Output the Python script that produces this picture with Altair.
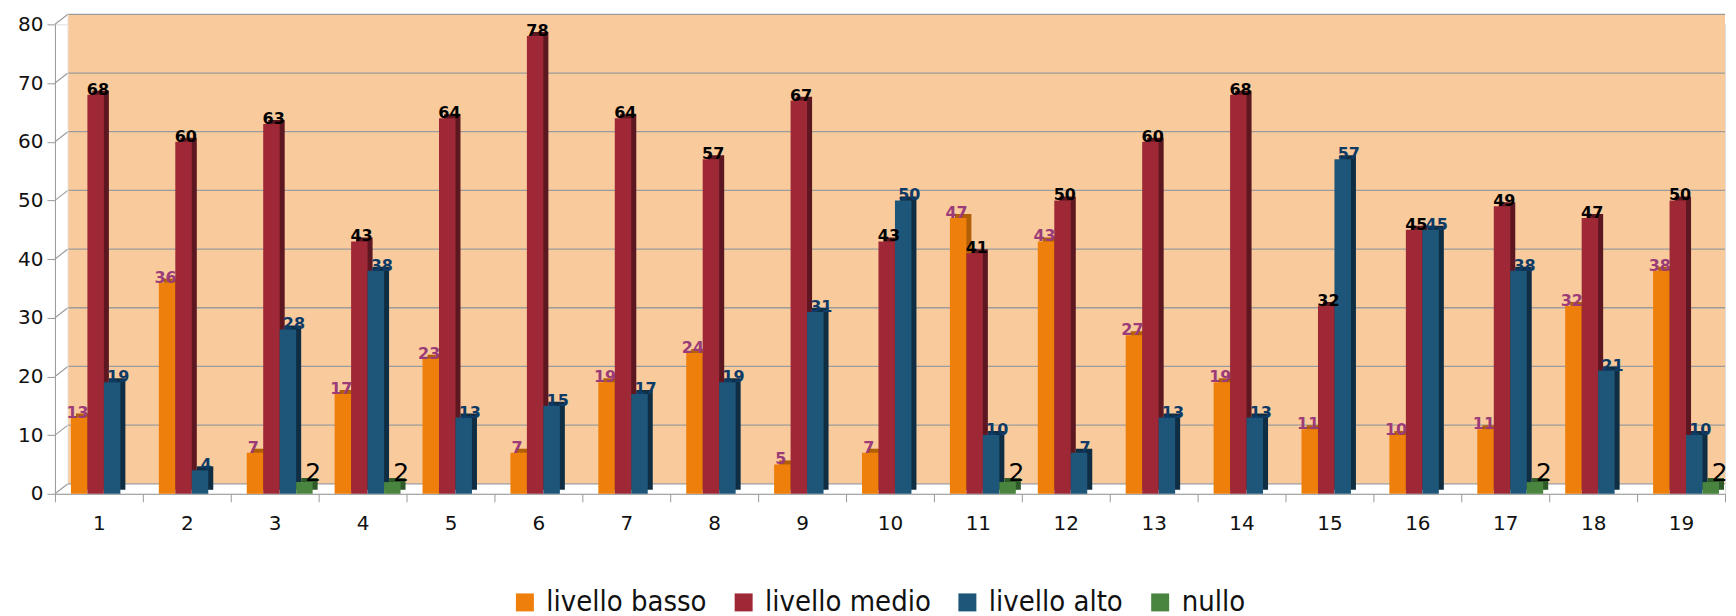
import altair as alt
import pandas as pd

categories = [str(i) for i in range(1, 20)]
series = ["livello basso", "livello medio", "livello alto", "nullo"]
basso = [13, 36, 7, 17, 23, 7, 19, 24, 5, 7, 47, 43, 27, 19, 11, 10, 11, 32, 38]
medio = [68, 60, 63, 43, 64, 78, 64, 57, 67, 43, 41, 50, 60, 68, 32, 45, 49, 47, 50]
alto = [19, 4, 28, 38, 13, 15, 17, 19, 31, 50, 10, 7, 13, 13, 57, 45, 38, 21, 10]
nullo = [0, 0, 2, 2, 0, 0, 0, 0, 0, 0, 2, 0, 0, 0, 0, 0, 2, 0, 2]
y_ticks = [0, 10, 20, 30, 40, 50, 60, 70, 80]

front_colors = ["#EF7F0B", "#9E2835", "#1D5678", "#4A8540"]
side_colors = ["#B35F08", "#5C1720", "#0F2E44", "#2D5A28"]
label_colors = ["#9B3C78", "#000000", "#0E3A66", "#000000"]

rows = []
for s_i, (s, vals) in enumerate(zip(series, [basso, medio, alto, nullo])):
    for c, v in zip(categories, vals):
        rows.append({"cat": c, "series": s, "value": v,
                     "side": side_colors[s_i], "lab": label_colors[s_i]})
df = pd.DataFrame(rows)
df_bars = df[df["value"] > 0]

FONT = "DejaVu Sans"
LEG_FONT = "DejaVu Sans Condensed"
W, H = 1672, 470
DEPTH_X, DEPTH_Y = 13, 10

x_enc = alt.X("cat:N", sort=categories,
              scale=alt.Scale(paddingInner=0, paddingOuter=0),
              axis=alt.Axis(title=None, labelAngle=0, labelFontSize=20,
                            labelFont=FONT, labelColor="#111111",
                            tickBand="extent", tickSize=8, tickColor="#999999",
                            domainColor="#999999", labelPadding=12))


def xoff(align):
    return alt.XOffset("series:N", sort=series,
                       scale=alt.Scale(domain=series, paddingInner=0,
                                       paddingOuter=0.667, align=align))


y_scale = alt.Scale(domain=[0, 80], nice=False)

wall = alt.Chart(pd.DataFrame({"a": [0], "b": [80]})).mark_rect(
    color="#F9CB9C", yOffset=-DEPTH_Y, y2Offset=-DEPTH_Y
).encode(
    y=alt.Y("a:Q", scale=y_scale,
            axis=alt.Axis(title=None, values=y_ticks, labelFontSize=20, labelFont=FONT,
                          labelColor="#111111", tickSize=8, tickColor="#999999",
                          domainColor="#999999", labelPadding=4, grid=False)),
    y2="b:Q",
    x=alt.value(DEPTH_X), x2=alt.value("width"),
)

tick_df = pd.DataFrame({"t": y_ticks})
grid = alt.Chart(tick_df).mark_rule(
    color="#9C9C9C", strokeWidth=1.3, yOffset=-DEPTH_Y
).encode(y=alt.Y("t:Q", scale=y_scale), x=alt.value(DEPTH_X), x2=alt.value("width"))

diag = alt.Chart(tick_df).mark_rule(
    color="#9C9C9C", strokeWidth=1.2, y2Offset=-DEPTH_Y
).encode(y=alt.Y("t:Q", scale=y_scale), y2="t:Q", x=alt.value(0), x2=alt.value(DEPTH_X))

wall_edge = alt.Chart(pd.DataFrame({"a": [0], "b": [80]})).mark_rule(
    color="#E6E6E6", strokeWidth=1, yOffset=-DEPTH_Y, y2Offset=-DEPTH_Y
).encode(y=alt.Y("a:Q", scale=y_scale), y2="b:Q", x=alt.value(DEPTH_X))

FRONT_ALIGN = 0.727
SIDE_ALIGN = 0.955

side = alt.Chart(df_bars).mark_bar(yOffset=-4).encode(
    x=x_enc, xOffset=xoff(SIDE_ALIGN),
    y=alt.Y("value:Q", scale=y_scale),
    fill=alt.Fill("side:N", scale=None, legend=None),
)

front = alt.Chart(df_bars).mark_bar().encode(
    x=x_enc, xOffset=xoff(FRONT_ALIGN),
    y=alt.Y("value:Q", scale=y_scale),
    color=alt.Color("series:N", sort=series,
                    scale=alt.Scale(domain=series, range=front_colors),
                    legend=alt.Legend(title=None, orient="none", direction="horizontal",
                                      legendX=456, legendY=564,
                                      symbolType="square", symbolSize=324,
                                      symbolStrokeWidth=0, labelFontSize=29,
                                      labelFont=LEG_FONT, labelColor="#111111",
                                      columnPadding=22, labelOffset=7,
                                      labelLimit=400)),
)

labels_bold = alt.Chart(df_bars[df_bars["series"] != "nullo"]).mark_text(
    font=FONT, fontWeight="bold", fontSize=16, baseline="bottom", dy=3, dx=3
).encode(
    x=x_enc, xOffset=xoff(FRONT_ALIGN),
    y=alt.Y("value:Q", scale=y_scale),
    text="value:Q",
    fill=alt.Fill("lab:N", scale=None, legend=None),
)

labels_null = alt.Chart(df_bars[df_bars["series"] == "nullo"]).mark_text(
    font=FONT, fontSize=25, baseline="bottom", dy=4, dx=2, color="#000000"
).encode(
    x=x_enc, xOffset=xoff(FRONT_ALIGN),
    y=alt.Y("value:Q", scale=y_scale),
    text="value:Q",
)

chart = alt.layer(wall, grid, diag, wall_edge, side, front, labels_bold, labels_null).resolve_scale(
    xOffset="independent"
).properties(
    width=W, height=H,
    padding={"left": 9, "top": 5, "right": 0, "bottom": 0},
).configure_view(stroke=None).configure(background="white")

chart.save("out.html", embed_options={"renderer": "svg", "actions": False})
